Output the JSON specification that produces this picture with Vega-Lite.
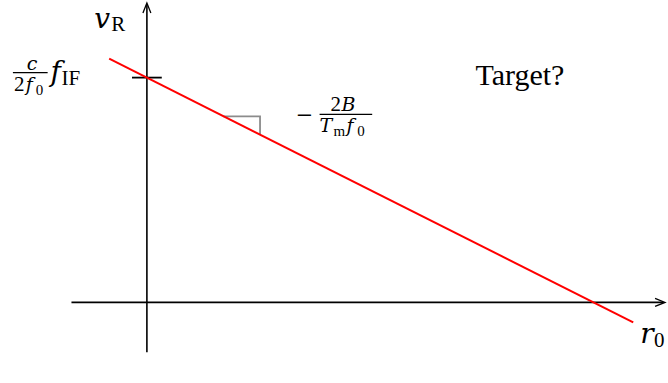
{
  "$schema": "https://vega.github.io/schema/vega-lite/v6.json",
  "width": 668,
  "height": 383,
  "padding": 0,
  "autosize": {"type": "fit", "contains": "padding"},
  "background": "white",
  "config": {"view": {"stroke": null}},
  "datasets": {
    "axes": [
      {"axis": "r0", "x": -76, "y": 0},
      {"axis": "r0", "x": 520, "y": 0},
      {"axis": "vR", "x": 0, "y": -50},
      {"axis": "vR", "x": 0, "y": 300}
    ],
    "arrows": [
      {"arrow": "up", "k": 0, "x": -4, "y": 291},
      {"arrow": "up", "k": 1, "x": 0, "y": 301},
      {"arrow": "up", "k": 2, "x": 4, "y": 291},
      {"arrow": "right", "k": 0, "x": 512, "y": 4},
      {"arrow": "right", "k": 1, "x": 522, "y": 0},
      {"arrow": "right", "k": 2, "x": 512, "y": -4}
    ],
    "line": [
      {"x": -38, "y": 245},
      {"x": 490, "y": -20}
    ],
    "slope": [
      {"k": 0, "x": 77, "y": 187},
      {"k": 1, "x": 114, "y": 187},
      {"k": 2, "x": 114, "y": 169}
    ],
    "ticks": [
      {"x": -15, "x2": 15, "y": 226}
    ],
    "bars": [
      {"x": -135, "x2": -100, "y": 231},
      {"x": 174, "x2": 227, "y": 189}
    ],
    "labels": [
      {"g": "it30", "t": "v", "x": -53, "y": 276},
      {"g": "it30", "t": "f", "x": -97, "y": 223},
      {"g": "it30", "t": "r", "x": 497, "y": -41},
      {"g": "ro30", "t": "Target?", "x": 331, "y": 219},
      {"g": "ro21", "t": "R", "x": -36, "y": 273},
      {"g": "ro21", "t": "IF", "x": -86, "y": 219},
      {"g": "ro21", "t": "2", "x": -134, "y": 213},
      {"g": "ro21", "t": "0", "x": 511, "y": -45},
      {"g": "ro21", "t": "2", "x": 185, "y": 192},
      {"g": "minus", "t": "−", "x": 150, "y": 181},
      {"g": "it21", "t": "c", "x": -121, "y": 234},
      {"g": "it21", "t": "f", "x": -122, "y": 213},
      {"g": "it21", "t": "B", "x": 196, "y": 192},
      {"g": "it21", "t": "T", "x": 174, "y": 171},
      {"g": "it21", "t": "f", "x": 201, "y": 171},
      {"g": "ro15", "t": "0", "x": -112, "y": 209},
      {"g": "ro15", "t": "m", "x": 188, "y": 167},
      {"g": "ro15", "t": "0", "x": 212, "y": 167}
    ]
  },
  "encoding": {
    "x": {"field": "x", "type": "quantitative", "axis": null,
          "scale": {"domain": [-148, 520], "nice": false, "zero": false}},
    "y": {"field": "y", "type": "quantitative", "axis": null,
          "scale": {"domain": [-81, 302], "nice": false, "zero": false}}
  },
  "layer": [
    {
      "data": {"name": "axes"},
      "mark": {"type": "line", "color": "black", "strokeWidth": 1.6, "clip": false},
      "encoding": {"detail": {"field": "axis"}}
    },
    {
      "data": {"name": "arrows"},
      "mark": {"type": "line", "color": "black", "strokeWidth": 1.3, "clip": false},
      "encoding": {"detail": {"field": "arrow"}, "order": {"field": "k"}}
    },
    {
      "data": {"name": "ticks"},
      "mark": {"type": "rule", "color": "black", "strokeWidth": 1.8},
      "encoding": {"x2": {"field": "x2"}}
    },
    {
      "data": {"name": "slope"},
      "mark": {"type": "line", "color": "#8c8c8c", "strokeWidth": 1.8},
      "encoding": {"order": {"field": "k"}}
    },
    {
      "data": {"name": "line"},
      "mark": {"type": "line", "color": "#ff0000", "strokeWidth": 2},
      "encoding": {}
    },
    {
      "data": {"name": "bars"},
      "mark": {"type": "rule", "color": "black", "strokeWidth": 1.2},
      "encoding": {"x2": {"field": "x2"}}
    },
    {
      "data": {"name": "labels"},
      "transform": [{"filter": "datum.g === 'it30'"}],
      "mark": {"type": "text", "font": "DejaVu Serif", "fontStyle": "italic", "fontSize": 28, "align": "left", "baseline": "alphabetic"},
      "encoding": {"text": {"field": "t"}}
    },
    {
      "data": {"name": "labels"},
      "transform": [{"filter": "datum.g === 'ro30'"}],
      "mark": {"type": "text", "font": "Liberation Serif", "fontSize": 30, "align": "left", "baseline": "alphabetic"},
      "encoding": {"text": {"field": "t"}}
    },
    {
      "data": {"name": "labels"},
      "transform": [{"filter": "datum.g === 'ro21'"}],
      "mark": {"type": "text", "font": "Liberation Serif", "fontSize": 21, "align": "left", "baseline": "alphabetic"},
      "encoding": {"text": {"field": "t"}}
    },
    {
      "data": {"name": "labels"},
      "transform": [{"filter": "datum.g === 'minus'"}],
      "mark": {"type": "text", "font": "DejaVu Serif", "fontSize": 21, "align": "left", "baseline": "alphabetic"},
      "encoding": {"text": {"field": "t"}}
    },
    {
      "data": {"name": "labels"},
      "transform": [{"filter": "datum.g === 'it21'"}],
      "mark": {"type": "text", "font": "DejaVu Serif", "fontStyle": "italic", "fontSize": 19, "align": "left", "baseline": "alphabetic"},
      "encoding": {"text": {"field": "t"}}
    },
    {
      "data": {"name": "labels"},
      "transform": [{"filter": "datum.g === 'ro15'"}],
      "mark": {"type": "text", "font": "Liberation Serif", "fontSize": 15, "align": "left", "baseline": "alphabetic"},
      "encoding": {"text": {"field": "t"}}
    }
  ]
}
